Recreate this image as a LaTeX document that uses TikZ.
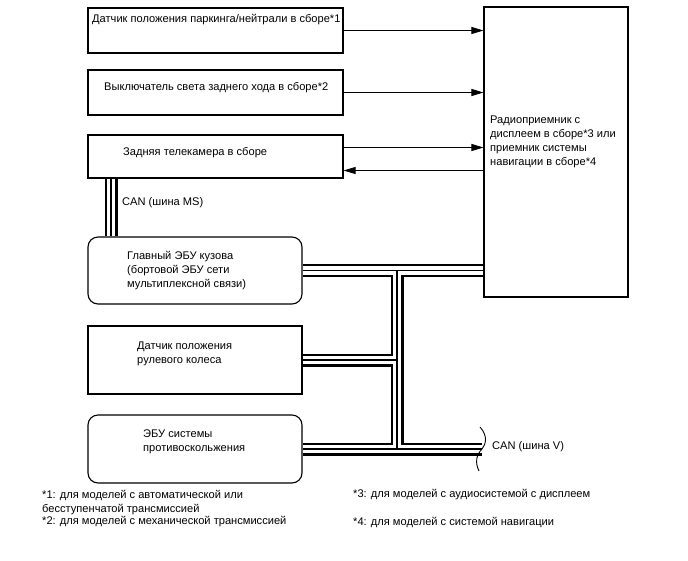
\documentclass[tikz,border=0pt]{standalone}
\usepackage{fontspec}
\setmainfont{Liberation Sans}
\usetikzlibrary{arrows.meta,calc}
\begin{document}
\begin{tikzpicture}[x=1pt,y=-1pt,
  font=\fontsize{11.1}{14}\selectfont,
  blk/.style={draw,line width=1.1pt,minimum width=#1,inner sep=0pt},
  txt/.style={anchor=west,inner sep=0pt,align=left},
  sig/.style={line width=0.9pt,-{Triangle[length=12pt,width=7pt]}},
  brk/.style={line width=0.9pt}]
\useasboundingbox[fill=white] (0,0) rectangle (688,560);
% boxes
\node[blk=255pt,minimum height=45pt] (park) at (215.5,30.5) {};
\node[blk=255pt,minimum height=45pt] (rev) at (215.5,92.5) {};
\node[blk=255pt,minimum height=43pt] (cam) at (215.5,156.5) {};
\node[blk=144pt,minimum height=290pt] (radio) at (556,152) {};
\node[blk=214pt,minimum height=67pt,rounded corners=10pt] (ecu) at (195,270.5) {};
\node[blk=214pt,minimum height=68pt] (steer) at (195,360) {};
\node[blk=214pt,minimum height=68pt,rounded corners=10pt] (esc) at (195,449) {};
% texts
\node[txt] (tpark) at (92,20) {Датчик положения паркинга/нейтрали в сборе*1};
\node[txt] (trev) at (104,88) {Выключатель света заднего хода в сборе*2};
\node[txt] (tcam) at (123,153) {Задняя телекамера в сборе};
\node[txt] (tradio) at (490,142) {Радиоприемник с\\дисплеем в сборе*3 или\\приемник системы\\навигации в сборе*4};
\node[txt] (tecu) at (127,270.5) {Главный ЭБУ кузова\\(бортовой ЭБУ сети\\мультиплексной связи)};
\node[txt] (tsteer) at (137,354) {Датчик положения\\рулевого колеса};
\node[txt] (tesc) at (143,442) {ЭБУ системы\\противоскольжения};
\node[txt] (tms) at (122,203) {CAN (шина MS)};
\node[txt] (tv) at (492,447) {CAN (шина V)};
\node[txt] (f1) at (42,503) {*1: для моделей с автоматической или\\бесступенчатой трансмиссией};
\node[txt] (f2) at (42,522) {*2: для моделей с механической трансмиссией};
\node[txt] (f3) at (353,495) {*3: для моделей с аудиосистемой с дисплеем};
\node[txt] (f4) at (353,522) {*4: для моделей с системой навигации};
% signal arrows
\draw[sig] (park.east) -- (park.east -| radio.west);
\draw[sig] (rev.east) -- (rev.east -| radio.west);
\coordinate (camhi) at ($(cam.east)+(0,-9)$);
\coordinate (camlo) at ($(cam.east)+(0,14)$);
\draw[sig] (camhi) -- (camhi -| radio.west);
\draw[sig] (camlo -| radio.west) -- (camlo);
% bus coordinates
\coordinate (vtop) at (397,270.5);
\coordinate (vbot) at (397,449);
\coordinate (vend) at (482,449);
\coordinate (ms) at (111,0);
% buses drawn in layers
\foreach \w/\c in {13/black,8.5/white,1.6/black}{
  \draw[line width=\w pt,\c]
    (ecu.east) -- (ecu.east -| radio.west)
    (vtop) -- (vbot)
    (steer.east) -- (steer.east -| vtop)
    (esc.east) -- (vend)
    (cam.south -| ms) -- (ecu.north -| ms);
}
% cable break
\draw[brk] (480,427) .. controls (488,436) and (486,444) .. (vend)
  .. controls (476,455) and (475,463) .. (479,471);
\end{tikzpicture}
\end{document}
